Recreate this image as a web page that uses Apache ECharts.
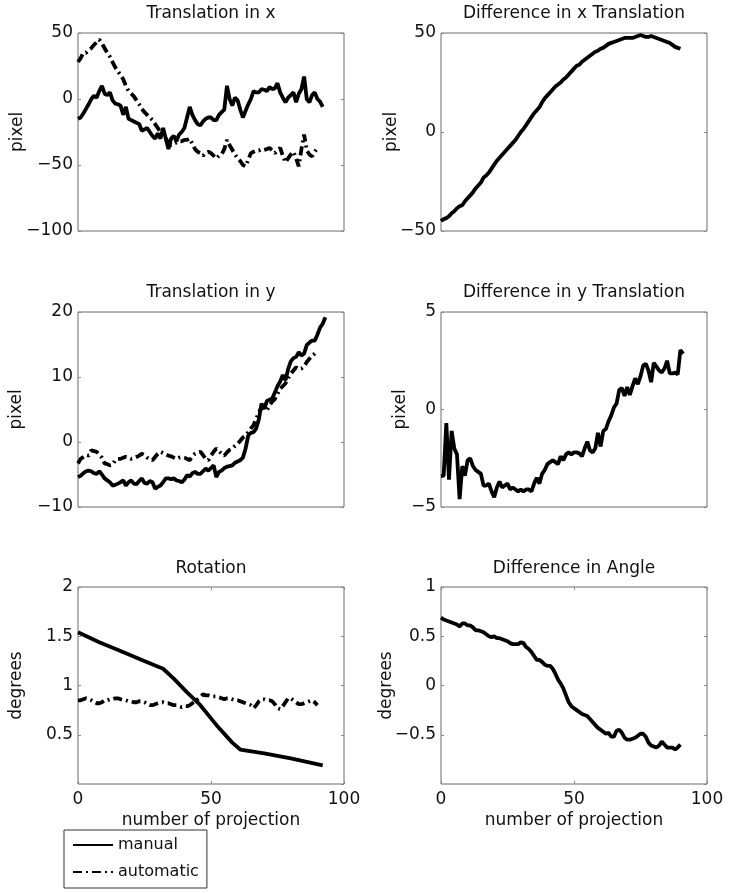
<!DOCTYPE html>
<html>
<head>
<meta charset="utf-8">
<script src="https://cdn.jsdelivr.net/npm/echarts@6/dist/echarts.min.js"></script>
<style>
html,body{margin:0;padding:0;background:#fff;}
#chart{width:729px;height:893px;}
</style>
</head>
<body>
<div id="chart"></div>
<script>
// ---------- data (index = number of projection) ----------
var transXManual = [-15,-14,-11,-7.5,-4,0,2.5,1,6,10,4,3,5,-1,-3.5,-4,-5,-12,-6,-15,-16,-17,-18,-19,-24,-23,-22,-25,-28,-30,-26,-30,-22,-30,-38,-30,-28,-32,-27,-25,-22,-14,-6,-12,-16,-19,-20,-17,-15,-14,-14,-16,-16,-12,-10,-8,10,0,-5,1,-1,-8,-14,-9,-4,0,6,5,5,7.5,7,6,9,7.5,8,12,5,1,-2.5,1,3,5,-2.5,4,7.5,17,0,-2.5,3,5,0,-2,-6];
var transXAuto = [28,31,35,35,37,38.5,41,43,45,42,38.5,35,32,28,24,21,18,15,10,6,4,2,-1,-4,-7.5,-10,-12,-14,-16,-19,-22,-25,-28,-30,-33,-35,-34,-33,-32,-32,-31,-31,-30,-34,-38,-40,-41,-43,-41,-40,-41,-43,-45,-43,-42,-38,-31,-35,-38.5,-42,-45,-47,-50,-51,-46,-41,-40,-39,-39,-38,-38.5,-38,-37,-39,-41,-39,-37,-43,-48,-45,-42,-40,-45,-51,-38,-27,-39,-42,-43.5,-40,-37];
var diffX = [-45,-44,-43.5,-42.5,-41,-40,-38.5,-37.5,-37,-35,-33.5,-32,-30.5,-28.5,-27,-25.5,-23,-22,-20.5,-18.5,-16.5,-14.5,-13,-11.5,-10,-8.5,-7,-5.5,-4,-2,0,1.5,3.5,5.5,7.5,9.5,11,12.5,15,17,18.5,20,21.5,23,24,25,26.5,27.5,29,30.5,32,33.5,34,35.5,36.5,37.5,38.5,39.5,40.5,41,42,42.5,43.5,44.5,45,45.5,46,46.5,47,47.5,47.5,47.5,47.5,48,48.5,49,48.5,48,48,48.5,48,47.5,47,46.5,46,45.5,45,44,43,42.5,42];
var transYManual = [-5.4,-5.2,-4.8,-4.5,-4.4,-4.5,-4.8,-4.9,-4.5,-5.0,-5.6,-5.9,-6.2,-6.7,-6.6,-6.4,-6.2,-5.9,-6.7,-6.2,-5.9,-6.4,-6.5,-6.0,-5.6,-6.3,-6.4,-6.0,-6.2,-7.2,-6.9,-6.7,-6.2,-5.6,-5.6,-5.7,-5.6,-5.9,-6.0,-6.2,-5.8,-5.1,-5.3,-4.8,-4.6,-4.9,-4.9,-4.5,-4.1,-4.4,-4.0,-3.6,-5.4,-4.6,-4.4,-4.0,-3.8,-3.7,-3.6,-3.2,-3.0,-2.8,-2.4,-1.0,1.0,1.4,1.5,2.1,3.5,5.9,5.1,6.3,6.5,6.7,7.6,8.6,9.3,10.3,9.5,11.2,12.4,12.9,13.1,13.8,13.3,13.6,14.9,15.3,15.6,15.6,16.5,17.6,18.2,19.2];
var transYAuto = [-3.3,-2.6,-2.3,-2.0,-2.1,-1.3,-1.4,-1.5,-2.0,-2.4,-3.3,-3.4,-3.6,-3.5,-2.8,-2.6,-2.6,-2.4,-2.3,-2.4,-2.6,-2.5,-2.3,-2.1,-1.8,-2.0,-2.4,-2.6,-2.8,-2.3,-1.8,-1.5,-1.7,-1.9,-2.1,-2.2,-2.4,-2.6,-2.4,-2.3,-2.4,-2.6,-2.8,-2.2,-1.8,-1.6,-1.5,-2.0,-2.6,-2.8,-2.1,-1.5,-1.0,-1.4,-1.8,-2.1,-1.6,-1.2,-1.0,-0.6,-0.3,0.2,0.7,1.0,1.5,2.1,2.6,3.6,4.5,5.4,5.0,4.9,5.6,6.2,6.6,7.4,8.2,8.6,9.0,9.8,10.5,11.0,11.5,11.2,11.3,11.6,12.3,12.8,13.3,13.6,14.1];
var diffY = [-3.4,-3.4,-0.7,-3.6,-1.1,-2.0,-2.3,-4.6,-2.9,-3.4,-2.6,-2.5,-2.9,-3.1,-3.2,-3.3,-3.9,-3.9,-3.8,-4.2,-4.5,-4.0,-3.7,-4.0,-3.9,-3.8,-4.1,-4.0,-4.1,-4.2,-4.1,-4.2,-4.1,-4.1,-4.2,-3.8,-3.5,-3.8,-3.3,-3.1,-2.8,-2.7,-2.6,-2.7,-2.8,-2.4,-2.6,-2.3,-2.2,-2.3,-2.2,-2.2,-2.25,-2.4,-2.0,-1.65,-2.1,-2.2,-2.0,-1.2,-1.9,-1.1,-1.0,-0.6,-0.3,0.1,0.3,1.0,1.1,0.7,1.15,0.75,1.2,1.6,1.3,1.7,2.25,2.35,2.0,1.4,2.4,2.2,2.0,1.9,2.1,2.5,1.85,1.85,1.9,1.8,3.05,2.85];
var rotManualAt = [0,8,16,24,32,36,41,46,52,58,61,70,80,92];
var rotManual = [1.54,1.44,1.35,1.26,1.17,1.07,0.93,0.80,0.60,0.42,0.35,0.31,0.26,0.19];
var rotAuto = [0.85,0.85,0.86,0.87,0.86,0.85,0.83,0.82,0.82,0.83,0.85,0.85,0.86,0.86,0.87,0.87,0.86,0.85,0.85,0.84,0.84,0.83,0.83,0.84,0.84,0.83,0.81,0.8,0.8,0.81,0.82,0.83,0.83,0.82,0.82,0.81,0.8,0.8,0.79,0.78,0.79,0.79,0.8,0.82,0.84,0.86,0.88,0.91,0.9,0.9,0.89,0.89,0.89,0.88,0.87,0.86,0.87,0.87,0.86,0.85,0.85,0.84,0.83,0.82,0.81,0.8,0.77,0.8,0.84,0.86,0.86,0.85,0.85,0.84,0.81,0.77,0.76,0.79,0.83,0.87,0.87,0.85,0.83,0.81,0.81,0.82,0.83,0.84,0.85,0.83,0.8];
var angleDiff = [0.69,0.67,0.66,0.65,0.64,0.63,0.62,0.60,0.63,0.63,0.61,0.61,0.59,0.56,0.56,0.55,0.54,0.52,0.50,0.49,0.50,0.48,0.48,0.47,0.46,0.45,0.43,0.42,0.42,0.42,0.44,0.43,0.39,0.37,0.34,0.30,0.26,0.26,0.24,0.21,0.20,0.20,0.17,0.12,0.06,0.02,-0.03,-0.10,-0.17,-0.21,-0.23,-0.25,-0.27,-0.29,-0.30,-0.31,-0.34,-0.37,-0.40,-0.43,-0.45,-0.47,-0.49,-0.48,-0.52,-0.52,-0.46,-0.45,-0.48,-0.53,-0.55,-0.55,-0.54,-0.53,-0.51,-0.49,-0.49,-0.52,-0.58,-0.61,-0.62,-0.63,-0.61,-0.57,-0.60,-0.63,-0.63,-0.63,-0.65,-0.63,-0.60];

var titles = ['Translation in x','Difference in x Translation','Translation in y','Difference in y Translation','Rotation','Difference in Angle'];
var yNames = ['pixel','pixel','pixel','pixel','degrees','degrees'];
var yRanges = [[-100,50,50],[-50,50,50],[-10,20,10],[-5,5,5],[0,2,0.5],[-1,1,0.5]];
var xTicks = [0,100,50];
var xName = 'number of projection';
var legendNames = ['manual','automatic'];

// ---------- layout ----------
var FONT = 'DejaVu Sans';
var colLeft = [78, 441];
var rowTop = [33, 312, 587];
var rowH = [198, 195, 197];
var W = 266;
var yNameGap = [52, 41, 53, 32, 53, 46];
var TICK = {show:true, inside:true, length:3, lineStyle:{color:'#8a8a8a'}};

function idx(arr){ return arr.map(function(v,i){return [i,v];}); }
function pairs(xs, ys){ return xs.map(function(x,i){return [x, ys[i]];}); }
function minus(v){ return String(v).replace('-', '\u2212'); }

var grids=[], xAxes=[], yAxes=[], titleArr=[];
for (var k=0;k<6;k++){
  var r=Math.floor(k/2), c=k%2;
  grids.push({left:colLeft[c], top:rowTop[r], width:W, height:rowH[r], show:true, borderColor:'#6b6b6b', borderWidth:1, containLabel:false});
  var bottomRow = (r===2);
  xAxes.push({type:'value', gridIndex:k, min:xTicks[0], max:xTicks[1], interval:xTicks[2],
    axisLine:{show:false, onZero:false}, splitLine:{show:false},
    axisTick: bottomRow ? TICK : {show:false},
    axisLabel:{show:bottomRow, fontFamily:FONT, fontSize:17, color:'#111', margin:7, formatter:minus},
    name: bottomRow ? xName : '', nameLocation:'middle', nameGap:28, nameMoveOverlap:false,
    nameTextStyle:{fontFamily:FONT, fontSize:17, color:'#111', verticalAlign:'top'}});
  var yr=yRanges[k];
  var hideMin = (r===2);
  yAxes.push({type:'value', gridIndex:k, min:yr[0], max:yr[1], interval:yr[2],
    axisLine:{show:false, onZero:false}, splitLine:{show:false},
    axisTick:TICK,
    axisLabel:{fontFamily:FONT, fontSize:17, color:'#111', margin:5, showMinLabel:!hideMin, formatter:minus},
    name:yNames[k], nameLocation:'middle', nameGap:yNameGap[k], nameMoveOverlap:false,
    nameTextStyle:{fontFamily:FONT, fontSize:17, color:'#111'}});
  yAxes.push({type:'value', gridIndex:k, position:'right', min:yr[0], max:yr[1], interval:yr[2],
    axisLine:{show:false, onZero:false}, splitLine:{show:false}, axisLabel:{show:false},
    axisTick:TICK});
  titleArr.push({text:titles[k], left:colLeft[c]+W/2, textAlign:'center', top:[5,284,560][r], padding:0,
    textStyle:{fontFamily:FONT, fontSize:17, fontWeight:'normal', color:'#111'}});
}
// top tick marks for the bottom row (boxed axes)
for (var b=4;b<6;b++){
  xAxes.push({type:'value', gridIndex:b, position:'top', min:xTicks[0], max:xTicks[1], interval:xTicks[2],
    axisLine:{show:false, onZero:false}, splitLine:{show:false}, axisLabel:{show:false}, axisTick:TICK});
}

var solid = {color:'#000', width:3.8, type:'solid'};
var dashdot = {color:'#000', width:3.8, type:[9,4,2,4]};
function line(name, data, k, style){
  return {type:'line', name:name, xAxisIndex:k, yAxisIndex:2*k, data:data, symbol:'none', showSymbol:false,
    lineStyle:style, itemStyle:{color:'#000'}, emphasis:{disabled:true}, silent:true};
}

var series = [
  line(legendNames[0], idx(transXManual), 0, solid),
  line(legendNames[1], idx(transXAuto), 0, dashdot),
  line(legendNames[0], idx(diffX), 1, solid),
  line(legendNames[0], idx(transYManual), 2, solid),
  line(legendNames[1], idx(transYAuto), 2, dashdot),
  line(legendNames[0], idx(diffY), 3, solid),
  line(legendNames[0], pairs(rotManualAt, rotManual), 4, solid),
  line(legendNames[1], idx(rotAuto), 4, dashdot),
  line(legendNames[0], idx(angleDiff), 5, solid)
];

var chart = echarts.init(document.getElementById('chart'), null, {renderer:'canvas'});
chart.setOption({
  animation:false,
  backgroundColor:'#fff',
  title:titleArr,
  grid:grids, xAxis:xAxes, yAxis:yAxes,
  legend:{data:legendNames, orient:'vertical', left:64, top:830, padding:[7,8,8,8], itemGap:11,
    itemWidth:40, itemHeight:14, borderColor:'#333', borderWidth:1, selectedMode:false,
    itemStyle:{color:'rgba(0,0,0,0)', borderColor:'rgba(0,0,0,0)', borderWidth:0, opacity:0},
    textStyle:{fontFamily:FONT, fontSize:16, color:'#111'}},
  series:series
});
</script>
</body>
</html>
